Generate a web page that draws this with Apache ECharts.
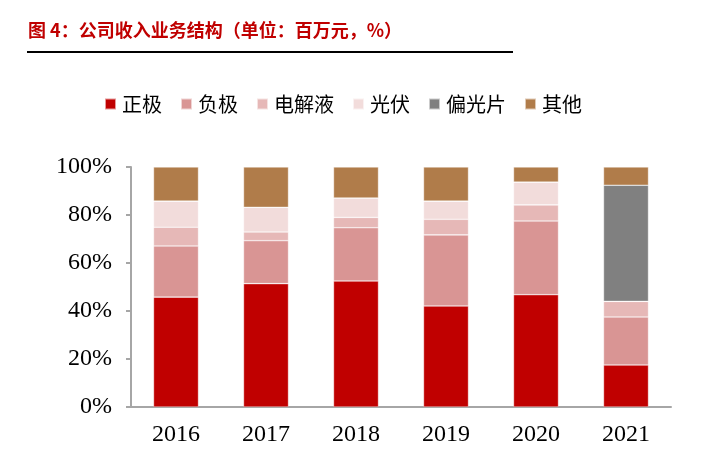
<!DOCTYPE html>
<html>
<head>
<meta charset="utf-8">
<script src="https://cdn.jsdelivr.net/npm/echarts@6/dist/echarts.min.js"></script>
<style>html,body{margin:0;padding:0;background:#fff}#c{width:709px;height:457px}</style>
</head>
<body>
<div id="c"></div>
<script>
var categories = ['2016', '2017', '2018', '2019', '2020', '2021'];
var seriesNames = ['正极', '负极', '电解液', '光伏', '偏光片', '其他'];
var zhengji = [45.8, 51.4, 52.5, 42.1, 46.8, 17.5];
var fuji = [21.3, 17.9, 22.2, 29.6, 30.7, 20.0];
var dianjieye = [7.8, 3.6, 4.3, 6.5, 6.7, 6.5];
var guangfu = [10.9, 10.3, 8.1, 7.6, 9.5, 0];
var pianguangpian = [0, 0, 0, 0, 0, 48.4];
var qita = [14.2, 16.8, 12.9, 14.2, 6.3, 7.6];
var yTicks = [0, 20, 40, 60, 80, 100];
var colors = ['#C00000', '#D99594', '#E6B8B7', '#F2DCDB', '#808080', '#B07C4A'];
var values = [zhengji, fuji, dianjieye, guangfu, pianguangpian, qita];

var chart = echarts.init(document.getElementById('c'));
var series = seriesNames.map(function (n, i) {
  return {
    name: n, type: 'bar', stack: 'total', barWidth: '50%',
    data: values[i],
    itemStyle: { color: colors[i], borderColor: 'rgba(255,255,255,0.6)', borderWidth: 0.6 }
  };
});
chart.setOption({
  animation: false,
  color: colors,
  title: {
    text: '图 4：公司收入业务结构（单位：百万元，%）',
    left: 28, top: 21, padding: 0,
    textStyle: { color: '#C00000', fontSize: 18, fontWeight: 'bold', fontFamily: 'Noto Sans CJK SC' }
  },
  graphic: [{
    type: 'rect', shape: { x: 27, y: 51, width: 486, height: 2 }, style: { fill: '#000' }
  }],
  legend: {
    left: 104, top: 94, padding: 0, itemWidth: 11, itemHeight: 11, itemGap: 18,
    icon: 'rect',
    textStyle: { fontSize: 20, color: '#000', fontFamily: 'Noto Sans CJK SC', padding: [0, 0, 0, 1] },
    data: seriesNames
  },
  grid: { left: 131, right: 38, top: 167, bottom: 50 },
  xAxis: {
    type: 'category', data: categories,
    axisLine: { lineStyle: { color: '#A6A6A6', width: 2 } },
    axisTick: { show: false },
    axisLabel: { color: '#000', fontSize: 24, fontFamily: 'Liberation Serif', margin: 16 }
  },
  yAxis: {
    type: 'value', min: 0, max: 100, interval: 20,
    axisLine: { show: true, lineStyle: { color: '#A6A6A6', width: 2 } },
    axisTick: { show: true, length: 5, lineStyle: { color: '#A6A6A6', width: 2 } },
    splitLine: { show: false },
    axisLabel: {
      color: '#000', fontSize: 24, fontFamily: 'Liberation Serif', margin: 19,
      formatter: function (v) { return yTicks.indexOf(v) >= 0 ? v + '%' : ''; }
    }
  },
  series: series
});
</script>
</body>
</html>
